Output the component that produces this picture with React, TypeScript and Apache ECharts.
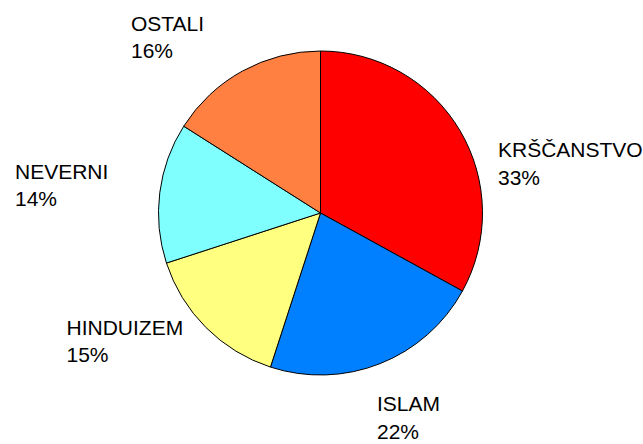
import React, { useEffect, useRef } from "react";
import * as echarts from "echarts";

const categories = ["KRŠČANSTVO", "ISLAM", "HINDUIZEM", "NEVERNI", "OSTALI"];
const values = [33, 22, 15, 14, 16];
const sliceColors = ["#FF0000", "#0080FF", "#FFFF80", "#80FFFF", "#FF8040"];

// label anchor positions (top-left of each label block)
const labelAnchors: [number, number][] = [
  [498, 136],
  [377, 390],
  [66.5, 313.5],
  [15, 157.5],
  [131, 9.5],
];

export default function App() {
  const ref = useRef<HTMLDivElement>(null);
  useEffect(() => {
    if (!ref.current) return;
    const chart = echarts.init(ref.current, undefined, { renderer: "svg" });
    chart.setOption({
      animation: false,
      backgroundColor: "#ffffff",
      series: [
        {
          type: "pie",
          center: [320.5, 213],
          radius: 162,
          startAngle: 90,
          clockwise: true,
          percentPrecision: 0,
          avoidLabelOverlap: false,
          silent: true,
          itemStyle: { borderColor: "#000000", borderWidth: 1 },
          label: {
            show: true,
            position: "inside",
            formatter: "{b}\n{d}%",
            color: "#000000",
            fontFamily: "Liberation Sans, Arial, sans-serif",
            fontSize: 21,
            lineHeight: 27.5,
            align: "left",
          },
          labelLine: { show: false },
          labelLayout: (params: any) => {
            const p = labelAnchors[params.dataIndex];
            return { x: p[0], y: p[1], align: "left", verticalAlign: "top" };
          },
          data: categories.map((name, i) => ({
            name,
            value: values[i],
            itemStyle: { color: sliceColors[i] },
          })),
        },
      ],
    });
    return () => chart.dispose();
  }, []);
  return (
    <div
      ref={ref}
      style={{ position: "fixed", left: 0, top: 0, width: 643, height: 444 }}
    />
  );
}
